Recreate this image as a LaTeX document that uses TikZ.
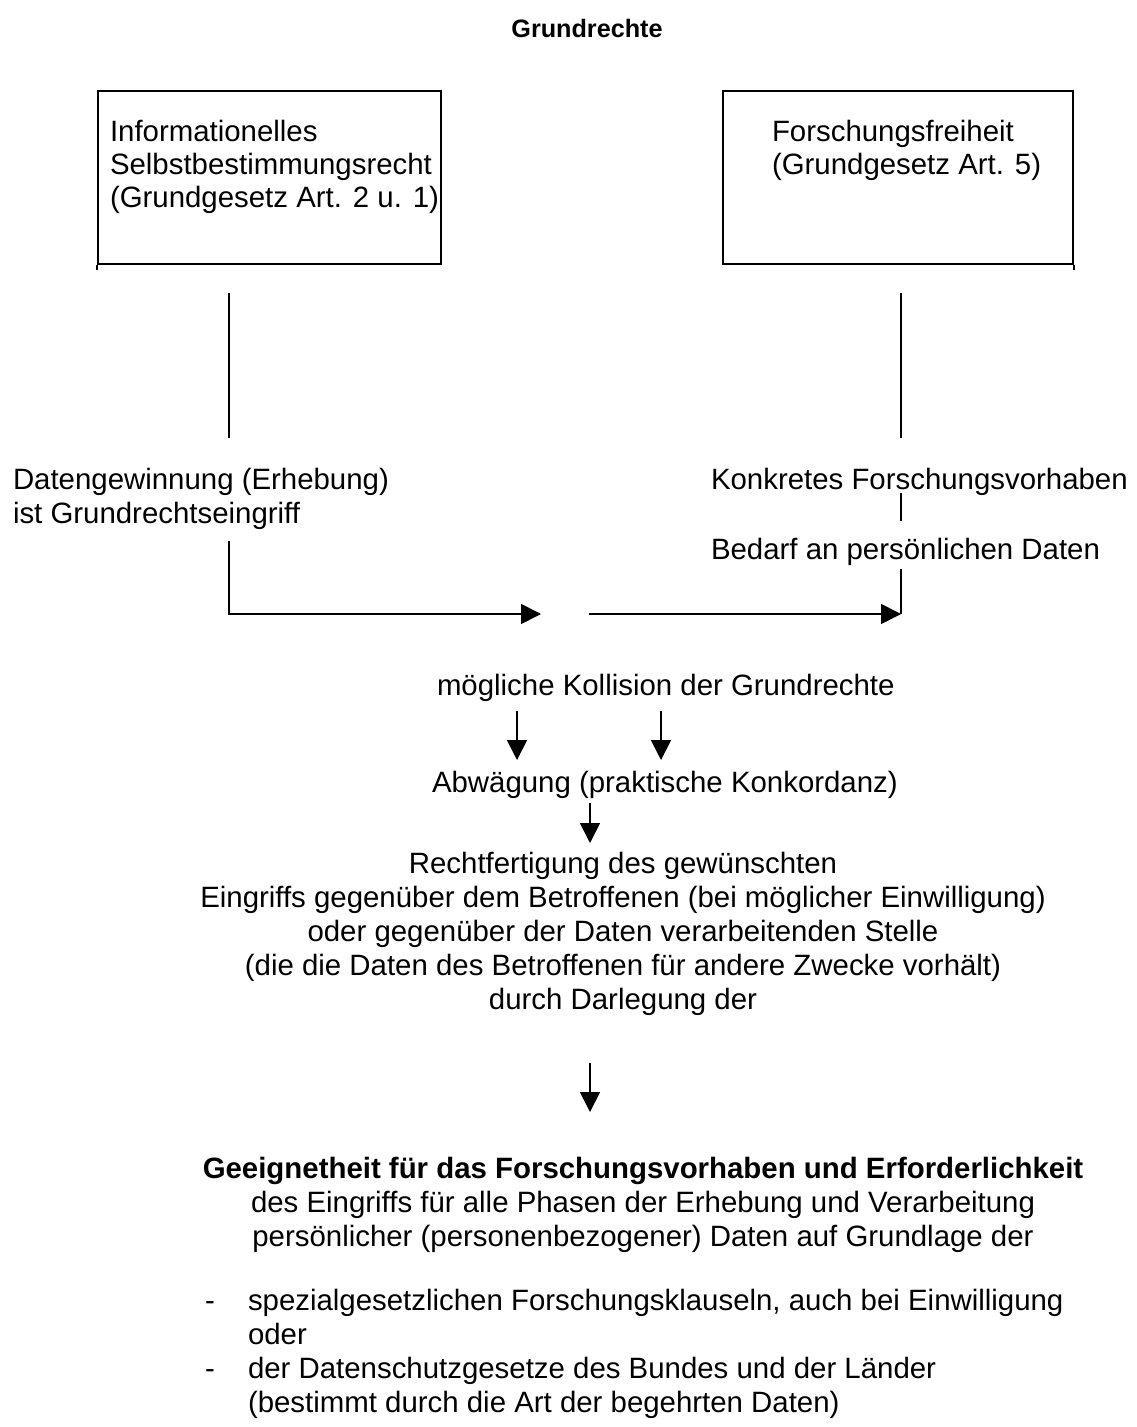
\documentclass[tikz,border=0pt]{standalone}
\usepackage{fontspec}
\setmainfont{Liberation Sans}
\usetikzlibrary{arrows.meta}
\begin{document}
\begin{tikzpicture}[x=0.5pt,y=-0.5pt,
  txt/.style={font=\fontsize{14.7}{17}\selectfont, inner sep=0pt, outer sep=0pt},
  btxt/.style={font=\fontsize{14.7}{17}\selectfont\bfseries, inner sep=0pt, outer sep=0pt},
  ln/.style={line width=0.85pt},
  arr/.style={ln, -{Triangle[length=10pt,width=10pt]}},
  box/.style={draw, line width=0.85pt, inner sep=0pt}]
\useasboundingbox (0,0) rectangle (1136,1427);

% title
\node[btxt, font=\fontsize{12.6}{15}\selectfont\bfseries, anchor=base] (title) at (587,38) {Grundrechte};

% boxes
\node[box, minimum width=171.5pt, minimum height=86.5pt] (boxL) at (269.5,177.5) {};
\node[box, minimum width=175pt, minimum height=86.5pt] (boxR) at (898,177.5) {};
\draw[ln] (boxL.south west) -- ++(0,5);
\draw[ln] (boxR.south east) -- ++(0,5);

\node[txt, anchor=base west] (l1) at (110,142) {Informationelles};
\node[txt, anchor=base west] (l2) at (110,175) {Selbstbestimmungsrecht};
\node[txt, anchor=base west] (l3) at (110,208) {(Grundgesetz Art. 2 u. 1)};
\node[txt, anchor=base west] (r1) at (772,142) {Forschungsfreiheit};
\node[txt, anchor=base west] (r2) at (772,175) {(Grundgesetz Art. 5)};

% vertical lines below boxes
\coordinate (vL1) at (229,293); \coordinate (vL2) at (229,438);
\coordinate (vR1) at (901,293); \coordinate (vR2) at (901,438);
\draw[ln] (vL1) -- (vL2);
\draw[ln] (vR1) -- (vR2);

% middle texts
\node[txt, anchor=base west] (dg1) at (13,489) {Datengewinnung (Erhebung)};
\node[txt, anchor=base west] (dg2) at (13,523) {ist Grundrechtseingriff};
\node[txt, anchor=base west] (kf) at (711,489) {Konkretes Forschungsvorhaben};
\node[txt, anchor=base west] (bd) at (711,559) {Bedarf an persönlichen Daten};

\coordinate (k1) at (901,493); \coordinate (k2) at (901,521);
\draw[ln] (k1) -- (k2);

% converging arrows
\coordinate (c1) at (229,541);
\coordinate (m1) at (541,614);
\draw[arr] (c1) |- (m1);
\coordinate (m2) at (589,614);
\coordinate (c2) at (901,614);
\coordinate (c3) at (901,569);
\draw[arr] (m2) -- (c2);
\draw[ln] (c3) -- (c2);

\node[txt, anchor=base west] (kol) at (437,695) {mögliche Kollision der Grundrechte};
\coordinate (a1s) at (517,711); \coordinate (a1e) at (517,760);
\coordinate (a2s) at (661,711); \coordinate (a2e) at (661,760);
\draw[arr] (a1s) -- (a1e);
\draw[arr] (a2s) -- (a2e);

\node[txt, anchor=base west] (abw) at (432,792) {Abwägung (praktische Konkordanz)};
\coordinate (a3s) at (590,803); \coordinate (a3e) at (590,843);
\draw[arr] (a3s) -- (a3e);

% justification paragraph
\node[txt, anchor=base] (p1) at (623,873) {Rechtfertigung des gewünschten};
\node[txt, anchor=base] (p2) at (623,907) {Eingriffs gegenüber dem Betroffenen (bei möglicher Einwilligung)};
\node[txt, anchor=base] (p3) at (623,941) {oder gegenüber der Daten verarbeitenden Stelle};
\node[txt, anchor=base] (p4) at (623,975) {(die die Daten des Betroffenen für andere Zwecke vorhält)};
\node[txt, anchor=base] (p5) at (623,1009) {durch Darlegung der};

\coordinate (a4s) at (590,1063); \coordinate (a4e) at (590,1112);
\draw[arr] (a4s) -- (a4e);

% result block
\node[btxt, anchor=base] (g1) at (643,1178) {Geeignetheit für das Forschungsvorhaben und Erforderlichkeit};
\node[txt, anchor=base] (g2) at (643,1212) {des Eingriffs für alle Phasen der Erhebung und Verarbeitung};
\node[txt, anchor=base] (g3) at (643,1246) {persönlicher (personenbezogener) Daten auf Grundlage der};

% list
\node[txt, anchor=base west] (d1) at (205,1310) {-};
\node[txt, anchor=base west] (i1) at (248,1310) {spezialgesetzlichen Forschungsklauseln, auch bei Einwilligung};
\node[txt, anchor=base west] (i1b) at (248,1344) {oder};
\node[txt, anchor=base west] (d2) at (205,1378) {-};
\node[txt, anchor=base west] (i2) at (248,1378) {der Datenschutzgesetze des Bundes und der Länder};
\node[txt, anchor=base west] (i2b) at (248,1412) {(bestimmt durch die Art der begehrten Daten)};
\end{tikzpicture}
\end{document}
